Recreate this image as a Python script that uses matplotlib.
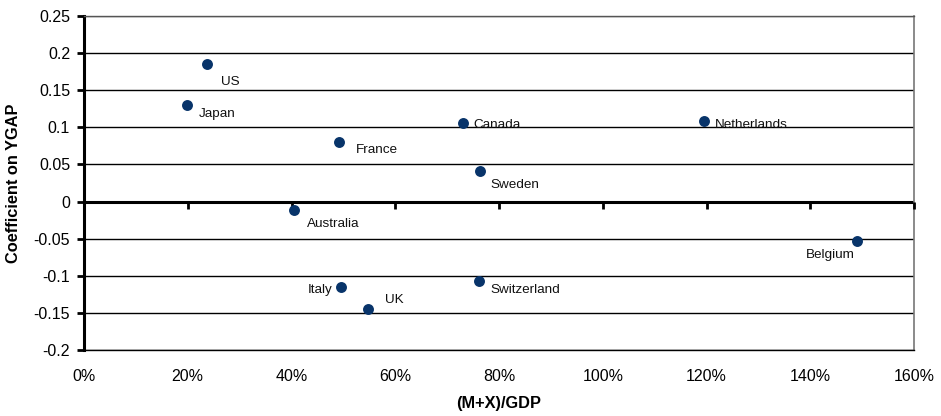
import matplotlib
matplotlib.use("Agg")
import matplotlib.pyplot as plt
from matplotlib.ticker import FuncFormatter

countries = ["US", "Japan", "France", "Canada", "Netherlands", "Sweden",
             "Australia", "Belgium", "Italy", "Switzerland", "UK"]
openness = [23.8, 19.9, 49.2, 73.1, 119.6, 76.3, 40.4, 149.1, 49.5, 76.2, 54.8]
coef = [0.186, 0.130, 0.080, 0.1055, 0.109, 0.0405, -0.011, -0.053, -0.115, -0.107, -0.145]

x_ticks = [0, 20, 40, 60, 80, 100, 120, 140, 160]
y_ticks = [-0.2, -0.15, -0.1, -0.05, 0, 0.05, 0.1, 0.15, 0.2, 0.25]
y_tick_labels = ["-0.2", "-0.15", "-0.1", "-0.05", "0", "0.05", "0.1", "0.15", "0.2", "0.25"]

# label offsets in pixels (dx, dy with image y downward), alignment
label_style = {
    "US": (14, 18, "left"),
    "Japan": (12, 9, "left"),
    "France": (17, 8, "left"),
    "Canada": (10, 2, "left"),
    "Netherlands": (10, 4.5, "left"),
    "Sweden": (11, 14, "left"),
    "Australia": (13.5, 14, "left"),
    "Belgium": (-2.5, 14.5, "right"),
    "Italy": (-8.5, 3.5, "right"),
    "Switzerland": (11, 9.5, "left"),
    "UK": (16.5, -9.5, "left"),
}

plt.rcParams['font.family'] = ['Liberation Sans', 'DejaVu Sans']

fig = plt.figure(figsize=(9.41, 4.16), dpi=100)
ax = fig.add_axes([84/941, (416-350)/416, (914-84)/941, (350-16)/416])

ax.set_xlim(0, 160)
ax.set_ylim(-0.2, 0.25)

for yv in y_ticks:
    ax.axhline(yv, color="#000000" if yv != 0.25 else "#555555",
               lw=1.0, zorder=1)
ax.axhline(0, color="black", lw=2.2, zorder=2)

navy = "#08346a"
ax.scatter(openness, coef, s=62, color=navy, zorder=4, linewidths=0)

for c, xv, yv in zip(countries, openness, coef):
    dx, dy, ha = label_style[c]
    ax.annotate(c, (xv, yv), xytext=(dx, -dy), textcoords="offset pixels",
                ha=ha, va="center", fontsize=9.7, color="#111111", zorder=5)

# tick marks along the zero line
ax.plot(x_ticks, [0]*len(x_ticks), linestyle="none", marker=3,
        markersize=5, markeredgewidth=2, color="black", zorder=3, clip_on=False)

ax.set_xticks(x_ticks)
ax.xaxis.set_major_formatter(FuncFormatter(lambda v, p: f"{v:.0f}%"))
ax.tick_params(axis="x", length=0, pad=14, labelsize=11.5)
ax.set_yticks(y_ticks)
ax.set_yticklabels(y_tick_labels)
ax.tick_params(axis="y", length=5, width=2, pad=5, labelsize=11.5)

ax.spines["left"].set_linewidth(2.2)
ax.spines["left"].set_color("black")
ax.spines["right"].set_color("#777777")
ax.spines["right"].set_linewidth(1.2)
ax.spines["top"].set_color("#555555")
ax.spines["top"].set_linewidth(1.0)
ax.spines["bottom"].set_color("black")
ax.spines["bottom"].set_linewidth(1.0)

ax.set_xlabel("(M+X)/GDP", fontsize=11.8, fontweight="bold", labelpad=8)
ax.set_ylabel("Coefficient on YGAP", fontsize=11.8, fontweight="bold", labelpad=9)

fig.savefig("out.png", dpi=100)
